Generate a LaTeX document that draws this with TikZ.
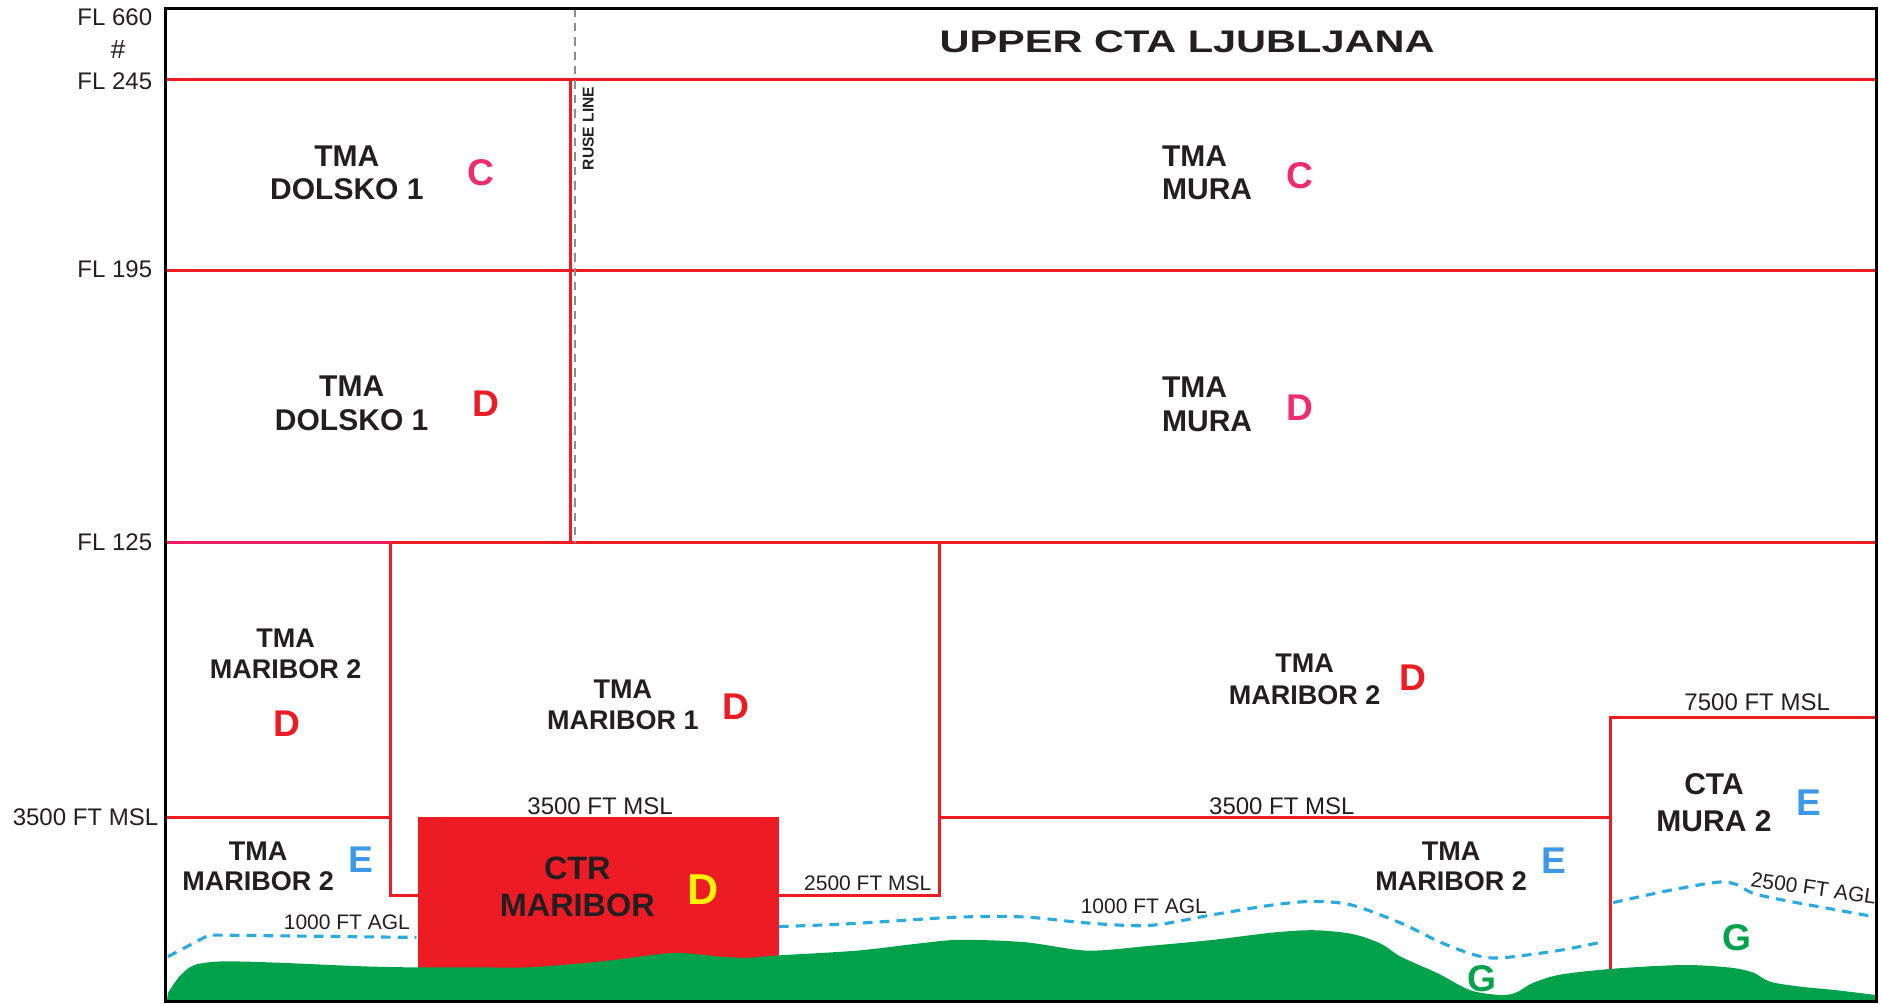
\documentclass[tikz,border=0pt]{standalone}
\usepackage{fontspec}
\setmainfont{Liberation Sans}
\newfontfamily\titlefont[FakeStretch=1.33]{Liberation Sans}
\definecolor{ared}{HTML}{ED1C24}
\definecolor{apink}{HTML}{EF2D6C}
\definecolor{fline}{HTML}{EC1E63}
\definecolor{ablue}{HTML}{3D98E8}
\definecolor{dblue}{HTML}{29ABE2}
\definecolor{agreen}{HTML}{00A14B}
\definecolor{ayellow}{HTML}{FFF200}
\definecolor{txt}{HTML}{231F20}
\begin{document}
\begin{tikzpicture}[x=1pt,y=-1pt,
  every node/.style={inner sep=0pt,text=txt},
  redline/.style={draw=ared,line width=2.5pt},
  rusedash/.style={draw=black!45,line width=1.6pt,dash pattern=on 7pt off 5pt},
  agl/.style={draw=dblue,line width=2.6pt,dash pattern=on 8pt off 6pt},
  lbl/.style={font=\fontsize{20}{22}\selectfont},
  slbl/.style={font=\fontsize{17.5}{19}\selectfont},
  zonea/.style={font=\bfseries\fontsize{25}{28}\selectfont,align=center},
  zoneb/.style={font=\bfseries\fontsize{22.5}{26}\selectfont,align=center},
  cls/.style={font=\bfseries\fontsize{31}{31}\selectfont}]
\useasboundingbox (0,0) rectangle (1568,836);
\fill[white] (0,0) rectangle (1568,836);

% airspace boundaries
\draw[redline] (138,66) -- (1563,66);
\draw[redline] (138,225) -- (1563,225);
\draw[redline] (325,452) -- (1563,452);
\draw[draw=fline,line width=2.5pt] (138,452) -- (325,452);
\draw[redline] (475,66) -- (475,452);
\draw[rusedash] (479,7) -- (479,452);
\draw[redline] (138,681) -- (325,681);
\draw[redline] (325,452) -- (325,746) -- (348,746);
\draw[redline] (649,746) -- (783,746) -- (783,452);
\draw[redline] (783,681) -- (1342,681);
\draw[redline] (1342,812) -- (1342,598) -- (1563,598);

% CTR
\fill[ared] (348,681) rectangle (649,814);

% AGL dashed lines
\draw[agl] (140,797) -- (174,779) -- (347,781);
\draw[agl] plot[smooth,tension=0.5] coordinates {(649,772) (700,770) (750,767) (800,764) (854,764) (906,769) (958,771) (1011,762) (1060,754) (1094,751) (1126,754) (1167,769) (1200,785) (1230,796) (1251,798) (1298,792) (1334,785)};
\draw[agl] plot[smooth,tension=0.5] coordinates {(1344,752) (1390,742) (1431,735) (1447,737) (1460,744) (1486,750) (1563,764)};

% terrain
\fill[agreen] (139,834) -- plot[smooth,tension=0.5] coordinates {(140,827) (150,813) (162,804) (185,801) (230,802) (300,805) (347,806) (400,806) (439,806) (480,803) (510,800) (561,794) (600,797) (623,798) (648,796) (714,792) (766,786) (800,783) (854,785) (906,792) (958,788) (1011,783) (1060,777) (1094,775) (1126,778) (1150,786) (1167,797) (1198,811) (1225,825) (1250,829) (1263,827) (1277,819) (1300,812) (1345,807) (1402,804) (1440,806) (1460,810) (1475,818) (1500,822) (1530,825) (1563,829)} -- (1563,834) -- cycle;

% frame
\draw[black,line width=2.5pt] (138,7) rectangle (1563,834);

% altitude labels
\node[lbl,anchor=east] (fl660) at (127,14) {FL 660};
\node[font=\itshape\fontsize{22}{22}\selectfont] (hash) at (98,41) {\#};
\node[lbl,anchor=east] (fl245) at (127,68) {FL 245};
\node[lbl,anchor=east] (fl195) at (127,224) {FL 195};
\node[lbl,anchor=east] (fl125) at (127,452) {FL 125};
\node[lbl,anchor=east] (msl35l) at (132,681) {3500 FT MSL};

\node[font=\titlefont\bfseries\fontsize{26}{26}\selectfont] (title) at (989,35) {UPPER CTA LJUBLJANA};
\node[rotate=90,font=\bfseries\fontsize{13}{13}\selectfont] (ruse) at (490,107) {RUSE LINE};

% zones
\node[zonea] (dolc) at (289,144) {TMA\\DOLSKO 1};
\node[cls,text=apink] (dolcc) at (401,144) {C};
\node[zonea,align=left,anchor=west] (murac) at (968,144) {TMA\\MURA};
\node[cls,text=apink] (muracc) at (1083,146) {C};
\node[zonea] (dold) at (293,336) {TMA\\DOLSKO 1};
\node[cls,text=ared] (doldc) at (405,336) {D};
\node[zonea,align=left,anchor=west] (murad) at (968,337) {TMA\\MURA};
\node[cls,text=apink] (muradc) at (1083,340) {D};

\node[zoneb] (m2a) at (238,545) {TMA\\MARIBOR 2};
\node[cls,text=ared] (m2ac) at (239,603) {D};
\node[zoneb] (m1) at (519,587) {TMA\\MARIBOR 1};
\node[cls,text=ared] (m1c) at (613,589) {D};
\node[zoneb] (m2b) at (1087,566) {TMA\\MARIBOR 2};
\node[cls,text=ared] (m2bc) at (1177,565) {D};

\node[font=\bfseries\fontsize{25}{31}\selectfont,align=center] (cta) at (1428,669) {CTA\\MURA 2};
\node[cls,text=ablue] (ctac) at (1507,669) {E};

\node[font=\bfseries\fontsize{22.5}{25}\selectfont,align=center] (m2c) at (215,722) {TMA\\MARIBOR 2};
\node[cls,text=ablue] (m2cc) at (301,716) {E};
\node[font=\bfseries\fontsize{27}{31}\selectfont,align=center] (ctr) at (481,739) {CTR\\MARIBOR};
\node[font=\bfseries\fontsize{36}{36}\selectfont,text=ayellow] (ctrc) at (586,741) {D};
\node[font=\bfseries\fontsize{22.5}{25}\selectfont,align=center] (m2d) at (1209,722) {TMA\\MARIBOR 2};
\node[cls,text=ablue] (m2dc) at (1295,717) {E};

\node[cls,text=agreen] (g1) at (1235,815) {G};
\node[cls,text=agreen] (g2) at (1447,781) {G};

% level labels
\node[lbl] (msl35a) at (500,672) {3500 FT MSL};
\node[lbl] (msl35b) at (1068,672) {3500 FT MSL};
\node[lbl] (msl75) at (1464,585) {7500 FT MSL};
\node[slbl] (msl25) at (723,736) {2500 FT MSL};
\node[slbl] (agl1) at (289,768) {1000 FT AGL};
\node[slbl] (agl2) at (953,755) {1000 FT AGL};
\node[slbl,rotate=-8] (agl3) at (1511,740) {2500 FT AGL};
\end{tikzpicture}
\end{document}
